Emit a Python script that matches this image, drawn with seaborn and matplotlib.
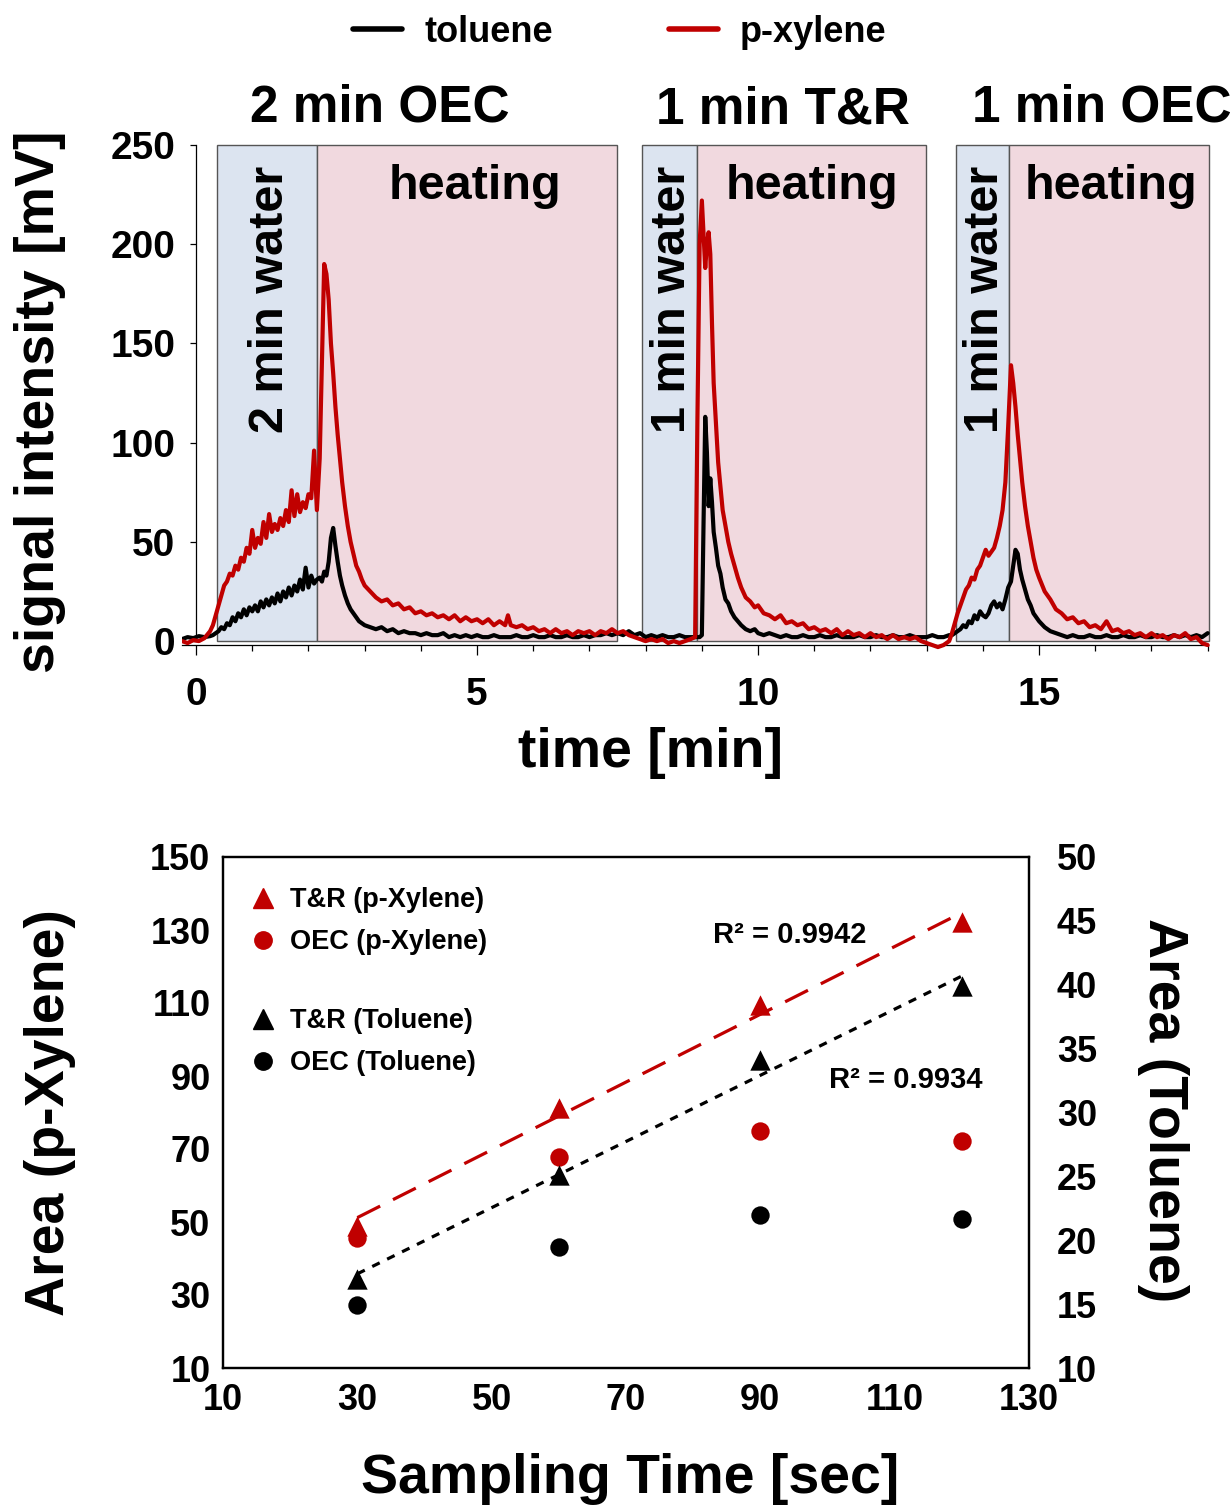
import numpy as np
import pandas as pd
import matplotlib
matplotlib.use("Agg")
import matplotlib.pyplot as plt
import seaborn as sns
from matplotlib.patches import Rectangle
from matplotlib.lines import Line2D
from matplotlib.ticker import MultipleLocator

# ---------------- data: chromatogram (top) ----------------
run1_time = [-0.25, -0.15, -0.05, 0.05, 0.15, 0.25,
             0.30, 0.35, 0.40, 0.45, 0.50, 0.55, 0.60, 0.65, 0.70, 0.75, 0.80, 0.85, 0.90, 0.95,
             1.00, 1.05, 1.10, 1.15, 1.20, 1.25, 1.30, 1.35, 1.40, 1.45, 1.50, 1.55, 1.60, 1.65,
             1.70, 1.75, 1.80, 1.85, 1.90, 1.95, 2.00, 2.05, 2.10, 2.15, 2.20,
             2.24, 2.28, 2.32, 2.36, 2.40, 2.44, 2.48, 2.52, 2.56, 2.60,
             2.65, 2.70, 2.75, 2.80, 2.85, 2.90, 2.95, 3.00,
             3.1, 3.2, 3.3, 3.4, 3.5, 3.6, 3.7, 3.8, 3.9, 4.0, 4.1, 4.2, 4.3, 4.4, 4.5, 4.6, 4.7,
             4.8, 4.9, 5.0, 5.1, 5.2, 5.3, 5.4, 5.5, 5.55,
             5.6, 5.7, 5.8, 5.9, 6.0, 6.1, 6.2, 6.3, 6.4, 6.5, 6.6, 6.7, 6.8, 6.9, 7.0, 7.1, 7.2,
             7.3, 7.4, 7.5, 7.6, 7.7, 7.8, 7.9]
run1_toluene = [1, 2, 1.5, 2.5, 2, 2.5,
                3, 4, 5, 7, 6, 9, 8, 12, 10, 14, 12, 16, 13, 17,
                15, 18, 15, 20, 17, 21, 18, 22, 19, 24, 20, 25, 22, 27,
                23, 28, 25, 31, 26, 37, 27, 33, 29, 31, 32,
                30, 35, 33, 40, 52, 57, 48, 40, 33, 28,
                23, 19, 16, 14, 12, 10, 9, 8,
                7, 6, 7, 5, 6, 4, 5, 4, 4, 3, 4, 3, 3, 4, 2, 3, 2,
                3, 2, 3, 2, 2, 3, 2, 2, 2,
                2, 3, 2, 2, 3, 2, 2, 3, 2, 2, 3, 2, 2, 3, 2, 3, 3,
                4, 3, 4, 3, 5, 3, 4]
run1_xylene = [0, -1, 0.5, 0, 1.5, 5,
               8, 13, 18, 23, 28, 30, 34, 33, 38, 36, 42, 40, 47, 44,
               56, 47, 52, 49, 60, 52, 64, 55, 59, 56, 62, 58, 66, 60,
               76, 63, 74, 65, 70, 67, 74, 72, 96, 66, 92,
               140, 190, 185, 172, 150, 135, 118, 104, 92, 80,
               68, 58, 50, 44, 38, 35, 31, 28,
               25, 22, 20, 21, 18, 19, 16, 17, 14, 15, 13, 14, 12, 13, 11, 13, 10,
               12, 10, 11, 9, 11, 8, 10, 8, 13,
               8, 7, 8, 6, 7, 5, 6, 4, 6, 4, 5, 3, 5, 4, 5, 3, 5,
               4, 6, 4, 5, 3, 2, 1]

run2_time = [8.0, 8.1, 8.2, 8.3, 8.4, 8.5, 8.6, 8.7, 8.8,
             8.88, 8.92, 8.96, 9.00, 9.03, 9.06, 9.09, 9.12, 9.15, 9.18, 9.21, 9.25, 9.29, 9.33,
             9.37, 9.42, 9.47, 9.52, 9.58, 9.64, 9.70, 9.78, 9.86, 9.94,
             10.0, 10.1, 10.2, 10.3, 10.4, 10.5, 10.6, 10.7, 10.8, 10.9,
             11.0, 11.1, 11.2, 11.3, 11.4, 11.5, 11.6, 11.7, 11.8, 11.9,
             12.0, 12.1, 12.2, 12.3, 12.4, 12.5, 12.6, 12.7, 12.8, 12.9]
run2_toluene = [2, 3, 2, 3, 2, 2, 3, 2, 2,
                2, 2, 2, 3, 60, 113, 95, 68, 82, 70, 55, 47, 38, 34,
                27, 21, 19, 15, 12, 10, 8, 6, 5, 6,
                4, 3, 4, 3, 2, 3, 2, 2, 3, 2,
                2, 3, 2, 2, 3, 2, 2, 2, 3, 2,
                2, 3, 2, 2, 3, 2, 2, 3, 2, 2]
run2_xylene = [0, 1, 0, 1, -1, 0, -1, 0, 1,
               2, 110, 200, 222, 205, 188, 200, 206, 195, 160, 130, 110, 90, 78,
               66, 58, 50, 44, 38, 32, 27, 22, 20, 17,
               18, 14, 13, 11, 13, 9, 10, 8, 9, 6,
               7, 5, 6, 4, 6, 3, 5, 3, 4, 2,
               4, 2, 3, 1, 3, 1, 2, 1, 2, 0]

run3_time = [13.0, 13.1, 13.2, 13.3, 13.4,
             13.45, 13.5, 13.55, 13.6, 13.65, 13.7, 13.75, 13.8, 13.85, 13.9, 13.95, 14.0,
             14.05, 14.1, 14.15, 14.2, 14.25, 14.3, 14.35, 14.4, 14.45, 14.5,
             14.54, 14.58, 14.62, 14.66, 14.70,
             14.75, 14.80, 14.85, 14.90, 14.95, 15.0,
             15.1, 15.2, 15.3, 15.4, 15.5, 15.6, 15.7, 15.8, 15.9, 16.0,
             16.1, 16.2, 16.3, 16.4, 16.5, 16.6, 16.7, 16.8, 16.9, 17.0,
             17.1, 17.2, 17.3, 17.4, 17.5, 17.6, 17.7, 17.8, 17.9, 18.0]
run3_toluene = [2, 3, 2, 2, 3,
                3, 4, 5, 6, 8, 7, 10, 9, 13, 11, 15, 13,
                12, 14, 18, 20, 17, 19, 16, 21, 27, 30,
                38, 46, 44, 36, 31,
                26, 21, 18, 14, 12, 10,
                7, 5, 4, 3, 2, 3, 2, 2, 3, 2,
                2, 3, 2, 2, 3, 2, 2, 3, 2, 2,
                3, 2, 2, 3, 2, 3, 2, 3, 2, 4]
run3_xylene = [-1, -2, -3, -2, 0,
               4, 9, 14, 18, 22, 26, 28, 32, 31, 36, 38, 42,
               46, 43, 45, 47, 52, 58, 66, 80, 108, 139,
               130, 118, 104, 92, 80,
               68, 58, 50, 42, 36, 32,
               25, 21, 16, 14, 11, 12, 9, 10, 7, 8,
               6, 10, 5, 6, 4, 5, 3, 4, 2, 4,
               2, 3, 1, 3, 2, 4, 1, 2, -1, -2]

# phase boundaries [min]
water_start = [0.37, 7.94, 13.53]
heating_start = [2.15, 8.92, 14.47]
heating_end = [7.49, 12.98, 18.02]
water_labels = ["2 min water", "1 min water", "1 min water"]
run_titles = ["2 min OEC", "1 min T&R", "1 min OEC"]

# ---------------- data: areas (bottom) ----------------
sampling_s = [30, 60, 90, 120]
tr_xylene = [48.9, 81.2, 109.5, 132.3]
oec_xylene = [45.6, 67.9, 75.0, 72.3]
tr_toluene = [17.0, 25.1, 34.1, 39.9]
oec_toluene = [14.9, 19.5, 22.0, 21.7]
r2_labels = ["R\u00b2 = 0.9942", "R\u00b2 = 0.9934"]

# ---------------- style ----------------
sns.set_style("ticks", rc={"axes.edgecolor": "black", "xtick.color": "black",
                           "ytick.color": "black", "text.color": "black",
                           "axes.labelcolor": "black"})
plt.rcParams["font.family"] = ["Liberation Sans", "DejaVu Sans"]
plt.rcParams["font.weight"] = "bold"
plt.rcParams["axes.labelweight"] = "bold"

RED = "#C00000"
BLUE_BG = "#DCE4F0"
PINK_BG = "#F1D9DF"

W, H = 1230, 1508
fig = plt.figure(figsize=(W / 100, H / 100), dpi=100)

# ---------------- top panel ----------------
ax = fig.add_axes([182 / W, 1 - 653 / H, (1210.5 - 182) / W, (653 - 141) / H])
chrom = pd.DataFrame({
    "time": run1_time + run2_time + run3_time,
    "toluene": run1_toluene + run2_toluene + run3_toluene,
    "p-xylene": run1_xylene + run2_xylene + run3_xylene,
})

for ws, hs, he in zip(water_start, heating_start, heating_end):
    ax.add_patch(Rectangle((ws, 0), hs - ws, 250, facecolor=BLUE_BG,
                           edgecolor="#555555", lw=1.0, zorder=0))
    ax.add_patch(Rectangle((hs, 0), he - hs, 250, facecolor=PINK_BG,
                           edgecolor="#555555", lw=1.0, zorder=0))

sns.lineplot(data=chrom, x="time", y="toluene", ax=ax, color="black", lw=3.0,
             sort=False, estimator=None, zorder=3)
sns.lineplot(data=chrom, x="time", y="p-xylene", ax=ax, color=RED, lw=3.0,
             sort=False, estimator=None, zorder=4)

ax.set_xlim(-0.25, 18.05)
ax.set_ylim(-6, 252)
ax.set_xlabel("")
ax.set_ylabel("")
ax.spines["top"].set_visible(False)
ax.spines["right"].set_visible(False)
ax.spines["left"].set_position(("data", 0))
ax.spines["left"].set_bounds(0, 250)
ax.spines["bottom"].set_position(("data", -2))
ax.spines["bottom"].set_bounds(-0.25, 18.0)
for s in ["left", "bottom"]:
    ax.spines[s].set_linewidth(0.9)
ax.set_yticks([0, 50, 100, 150, 200, 250])
ax.xaxis.set_major_locator(MultipleLocator(5))
ax.xaxis.set_minor_locator(MultipleLocator(1))
ax.set_xticks([0, 5, 10, 15])
ax.tick_params(axis="y", labelsize=28, length=4, width=0.9, pad=11, direction="out")
ax.tick_params(axis="x", which="major", labelsize=28, length=7, width=0.9, pad=16, direction="out")
ax.tick_params(axis="x", which="minor", length=4.5, width=0.9, direction="out")
for lbl in ax.get_xticklabels() + ax.get_yticklabels():
    lbl.set_fontweight("bold")

heat_centers = [4.96, 10.96, 16.28]
water_centers = [1.33, 8.47, 14.04]
for hc, wc, wl in zip(heat_centers, water_centers, water_labels):
    ax.text(hc, 223, "heating", fontsize=35, ha="center", va="baseline", zorder=5)
    ax.text(wc, 172, wl, fontsize=35, ha="center", va="center", rotation=90, zorder=5)

title_x = [380, 783, 1102]
title_base = [122, 124, 122]
for tx, tb, tt in zip(title_x, title_base, run_titles):
    fig.text(tx / W, 1 - tb / H, tt, fontsize=37, ha="center", va="baseline")

fig.text(40 / W, 1 - 402 / H, "signal intensity [mV]", fontsize=40, rotation=90,
         ha="center", va="center")
fig.text(650 / W, 1 - 767 / H, "time [min]", fontsize=40, ha="center", va="baseline")

leg_handles = [Line2D([], [], color="black", lw=4), Line2D([], [], color=RED, lw=4)]
fig.legend(leg_handles, ["toluene", "p-xylene"], loc="center",
           bbox_to_anchor=(620 / W, 1 - 32 / H), ncol=2, frameon=False, fontsize=26,
           handlelength=1.35, handletextpad=0.62, columnspacing=3.2)

# ---------------- bottom panel ----------------
axb = fig.add_axes([223 / W, 1 - 1368 / H, 806 / W, 511 / H])
axr = axb.twinx()

sns.regplot(x=sampling_s, y=tr_xylene, ax=axb, scatter=False, ci=None, color=RED,
            line_kws=dict(lw=2.3, ls=(0, (8, 4.5))))
sns.scatterplot(x=sampling_s, y=tr_xylene, ax=axb, marker="^", s=215, color=RED,
                linewidth=0, zorder=5)
sns.scatterplot(x=sampling_s, y=oec_xylene, ax=axb, marker="o", s=175, color=RED,
                linewidth=0, zorder=5)
sns.regplot(x=sampling_s, y=tr_toluene, ax=axr, scatter=False, ci=None, color="black",
            line_kws=dict(lw=2.3, ls=(0, (2.6, 2.6))))
sns.scatterplot(x=sampling_s, y=tr_toluene, ax=axr, marker="^", s=215, color="black",
                linewidth=0, zorder=5)
sns.scatterplot(x=sampling_s, y=oec_toluene, ax=axr, marker="o", s=175, color="black",
                linewidth=0, zorder=5)

axb.set_xlim(10, 130)
axb.set_ylim(10, 150)
axr.set_ylim(10, 50)
axb.set_xticks([10, 30, 50, 70, 90, 110, 130])
axb.set_yticks([10, 30, 50, 70, 90, 110, 130, 150])
axr.set_yticks([10, 15, 20, 25, 30, 35, 40, 45, 50])
axb.set_xlabel("")
axb.set_ylabel("")
axr.set_ylabel("")
for a in (axb, axr):
    for s in a.spines.values():
        s.set_visible(True)
        s.set_linewidth(1.6)
        s.set_color("black")
axb.tick_params(axis="x", labelsize=26, length=0, pad=11)
axb.tick_params(axis="y", labelsize=26, length=0, pad=9)
axr.tick_params(axis="y", labelsize=26, length=0, pad=20)
for lbl in axb.get_xticklabels() + axb.get_yticklabels() + axr.get_yticklabels():
    lbl.set_fontweight("bold")

axb.text(82.9, 128.6, r2_labels[0], fontsize=21, ha="left", va="center")
axb.text(100.2, 88.9, r2_labels[1], fontsize=21, ha="left", va="center")

h1 = [Line2D([], [], marker="^", color=RED, ls="none", markersize=14),
      Line2D([], [], marker="o", color=RED, ls="none", markersize=12.5)]
h2 = [Line2D([], [], marker="^", color="black", ls="none", markersize=14),
      Line2D([], [], marker="o", color="black", ls="none", markersize=12.5)]
leg1 = axb.legend(h1, ["T&R (p-Xylene)", "OEC (p-Xylene)"], loc="upper left",
                  bbox_to_anchor=((249.5 - 223) / 806, (1368 - 887) / 511),
                  frameon=False, fontsize=19.5, borderpad=0, borderaxespad=0,
                  handlelength=1.0, handletextpad=0.5, labelspacing=0.6)
axb.add_artist(leg1)
leg2 = axb.legend(h2, ["T&R (Toluene)", "OEC (Toluene)"], loc="upper left",
                  bbox_to_anchor=((249.5 - 223) / 806, (1368 - 1008) / 511),
                  frameon=False, fontsize=19.5, borderpad=0, borderaxespad=0,
                  handlelength=1.0, handletextpad=0.5, labelspacing=0.6)

fig.text(630 / W, 1 - 1493 / H, "Sampling Time [sec]", fontsize=40, ha="center",
         va="baseline")
fig.text(50 / W, 1 - 1113 / H, "Area (p-Xylene)", fontsize=40, rotation=90,
         ha="center", va="center")
fig.text(1163 / W, 1 - 1110 / H, "Area (Toluene)", fontsize=40, rotation=270,
         ha="center", va="center")

fig.savefig("out.png", dpi=100)
